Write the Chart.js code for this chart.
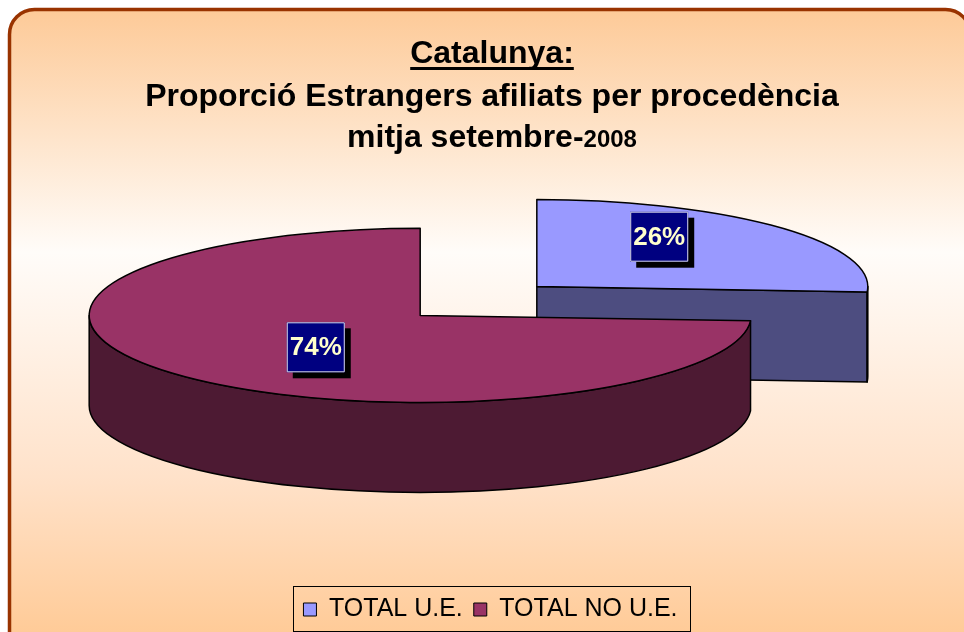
<!DOCTYPE html>
<html>
<head>
<meta charset="utf-8">
<script src="https://cdn.jsdelivr.net/npm/chart.js@4.4.0/dist/chart.umd.min.js"></script>
<style>
  html, body { margin: 0; padding: 0; background: #fff; }
</style>
</head>
<body>
<canvas id="grafica" width="964" height="632"></canvas>
<script>
// Datos del gráfico
const categorias = ['TOTAL U.E.', 'TOTAL NO U.E.'];
const porcentajes = [26, 74];

// Textos del título
const titulo1 = 'Catalunya:';
const titulo2 = 'Proporció Estrangers afiliats per procedència';
const titulo3a = 'mitja setembre-';
const titulo3b = '2008';

// Colores: cara superior y lateral (sombreado)
const coloresCara = ['#9999FF', '#993366'];
const coloresLateral = ['#4D4D80', '#4D1A33'];

// Parámetros del efecto 3D
const INCLINACION = 0.263;
const PROFUNDIDAD = 90;
const SEPARACION = 80;
const FUENTE = '"Liberation Sans", Arial, sans-serif';

// Fondo con borde redondeado y degradado
const fondoPanel = {
    id: 'fondoPanel',
    beforeDraw(chart) {
        const ctx = chart.ctx;
        ctx.save();
        ctx.fillStyle = '#fff';
        ctx.fillRect(0, 0, chart.width, chart.height);
        const x = 9.5, y = 9.5, w = 961, h = 660, r = 25;
        ctx.beginPath();
        ctx.moveTo(x + r, y);
        ctx.lineTo(x + w - r, y);
        ctx.arcTo(x + w, y, x + w, y + r, r);
        ctx.lineTo(x + w, y + h);
        ctx.lineTo(x, y + h);
        ctx.lineTo(x, y + r);
        ctx.arcTo(x, y, x + r, y, r);
        ctx.closePath();
        const grad = ctx.createLinearGradient(0, 10, 0, 632);
        grad.addColorStop(0, '#FDCA98');
        grad.addColorStop(0.39, '#FFFCF9');
        grad.addColorStop(0.75, '#FFE2CA');
        grad.addColorStop(1, '#FFCB98');
        ctx.fillStyle = grad;
        ctx.fill();
        ctx.lineWidth = 3.5;
        ctx.strokeStyle = '#993300';
        ctx.stroke();
        ctx.restore();
    }
};

// Dibujo del pastel en 3D a partir de los arcos calculados por Chart.js
const pastel3D = {
    id: 'pastel3D',
    beforeDatasetsDraw(chart) {
        const ctx = chart.ctx;
        const meta = chart.getDatasetMeta(0);
        const valores = chart.data.datasets[0].data;
        const total = valores.reduce((a, b) => a + b, 0);

        const piezas = meta.data.map((arc, i) => {
            const p = arc.getProps(['x', 'y', 'startAngle', 'endAngle', 'outerRadius'], true);
            const mid = (p.startAngle + p.endAngle) / 2;
            return {
                i: i, s: p.startAngle, e: p.endAngle, mid: mid,
                rx: p.outerRadius, ry: p.outerRadius * INCLINACION,
                cx: p.x + Math.cos(mid) * SEPARACION,
                cy: p.y + Math.sin(mid) * SEPARACION * INCLINACION
            };
        });

        const punto = (pz, a) => [pz.cx + pz.rx * Math.cos(a), pz.cy + pz.ry * Math.sin(a)];

        ctx.save();
        ctx.lineWidth = 1.5;
        ctx.strokeStyle = '#000';
        ctx.lineJoin = 'round';

        // Primero las piezas de atrás
        piezas.slice().sort((a, b) => a.cy - b.cy).forEach(pz => {
            ctx.fillStyle = coloresLateral[pz.i];

            // Caras radiales visibles
            const caras = [];
            if (Math.cos(pz.s) < -1e-3) caras.push(pz.s);
            if (Math.cos(pz.e) > 1e-3) caras.push(pz.e);
            caras.forEach(a => {
                const [px, py] = punto(pz, a);
                ctx.beginPath();
                ctx.moveTo(pz.cx, pz.cy);
                ctx.lineTo(px, py);
                ctx.lineTo(px, py + PROFUNDIDAD);
                ctx.lineTo(pz.cx, pz.cy + PROFUNDIDAD);
                ctx.closePath();
                ctx.fill();
                ctx.stroke();
            });

            // Pared exterior (solo la mitad delantera)
            const a1 = Math.max(pz.s, 0);
            const a2 = Math.min(pz.e, Math.PI);
            if (a1 < a2) {
                const [qx, qy] = punto(pz, a2);
                ctx.beginPath();
                ctx.ellipse(pz.cx, pz.cy, pz.rx, pz.ry, 0, a1, a2);
                ctx.lineTo(qx, qy + PROFUNDIDAD);
                ctx.ellipse(pz.cx, pz.cy + PROFUNDIDAD, pz.rx, pz.ry, 0, a2, a1, true);
                ctx.closePath();
                ctx.fill();
                ctx.stroke();
            }

            // Cara superior
            ctx.fillStyle = coloresCara[pz.i];
            ctx.beginPath();
            ctx.moveTo(pz.cx, pz.cy);
            ctx.ellipse(pz.cx, pz.cy, pz.rx, pz.ry, 0, pz.s, pz.e);
            ctx.closePath();
            ctx.fill();
            ctx.stroke();
        });

        // Etiquetas de porcentaje
        ctx.font = 'bold 26px ' + FUENTE;
        ctx.textAlign = 'center';
        ctx.textBaseline = 'middle';
        piezas.forEach(pz => {
            const lx = pz.cx + Math.cos(pz.mid) * pz.rx * 0.47 + 9;
            const ly = pz.cy + Math.sin(pz.mid) * pz.rx * 0.47 * 0.384 - 9;
            const bw = 58, bh = 50;
            ctx.fillStyle = '#000';
            ctx.fillRect(lx - bw / 2 + 6, ly - bh / 2 + 6, bw, bh);
            ctx.fillStyle = '#000080';
            ctx.fillRect(lx - bw / 2, ly - bh / 2, bw, bh);
            ctx.lineWidth = 1;
            ctx.strokeStyle = '#D8D8E8';
            ctx.strokeRect(lx - bw / 2 + 0.5, ly - bh / 2 + 0.5, bw - 1, bh - 1);
            ctx.fillStyle = '#FFFFCC';
            const txt = Math.round(valores[pz.i] / total * 100) + '%';
            ctx.fillText(txt, lx, ly + 1);
        });
        ctx.restore();
        return false;
    }
};

// Título, marco de la leyenda
const tituloYMarco = {
    id: 'tituloYMarco',
    afterLayout(chart) {
        // desplazar la leyenda un poco a la derecha, como en el original
        chart.legend.left += 12;
        chart.legend.right += 12;
    },
    afterDraw(chart) {
        const ctx = chart.ctx;
        const cx = 492;
        ctx.save();
        ctx.fillStyle = '#000';
        ctx.textBaseline = 'alphabetic';
        ctx.textAlign = 'center';
        ctx.font = 'bold 32px ' + FUENTE;
        ctx.fillText(titulo1, cx, 63);
        const w1 = ctx.measureText(titulo1).width;
        ctx.fillRect(cx - w1 / 2, 67, w1, 3);
        ctx.fillText(titulo2, cx, 106);

        ctx.textAlign = 'left';
        const wa = ctx.measureText(titulo3a).width;
        ctx.font = 'bold 24px ' + FUENTE;
        const wb = ctx.measureText(titulo3b).width;
        const x0 = cx - (wa + wb) / 2;
        ctx.font = 'bold 32px ' + FUENTE;
        ctx.fillText(titulo3a, x0, 147);
        ctx.font = 'bold 24px ' + FUENTE;
        ctx.fillText(titulo3b, x0 + wa, 147);

        // marco de la leyenda
        const lg = chart.legend;
        const hb = lg.legendHitBoxes;
        if (hb && hb.length) {
            const izq = hb[0].left - 10;
            const der = hb[hb.length - 1].left + hb[hb.length - 1].width + 13;
            const arriba = hb[0].top - 11;
            const abajo = hb[0].top + hb[0].height + 10;
            ctx.lineWidth = 1;
            ctx.strokeStyle = '#000';
            ctx.strokeRect(Math.round(izq) + 0.5, Math.round(arriba) + 0.5, Math.round(der - izq), Math.round(abajo - arriba) - 1);
        }
        ctx.restore();
    }
};

const ctx = document.getElementById('grafica').getContext('2d');
new Chart(ctx, {
    type: 'pie',
    data: {
        labels: categorias,
        datasets: [{
            data: porcentajes,
            backgroundColor: coloresCara,
            borderColor: '#000',
            borderWidth: 1,
            radius: 331
        }]
    },
    options: {
        responsive: false,
        animation: false,
        events: [],
        layout: { padding: { top: 16, right: 7, bottom: 0, left: 0 } },
        plugins: {
            title: { display: false },
            tooltip: { enabled: false },
            legend: {
                display: true,
                position: 'bottom',
                labels: {
                    boxWidth: 13,
                    boxHeight: 13,
                    padding: 11,
                    color: '#000',
                    font: { size: 25, family: FUENTE }
                }
            }
        }
    },
    plugins: [fondoPanel, pastel3D, tituloYMarco]
});
</script>
</body>
</html>
